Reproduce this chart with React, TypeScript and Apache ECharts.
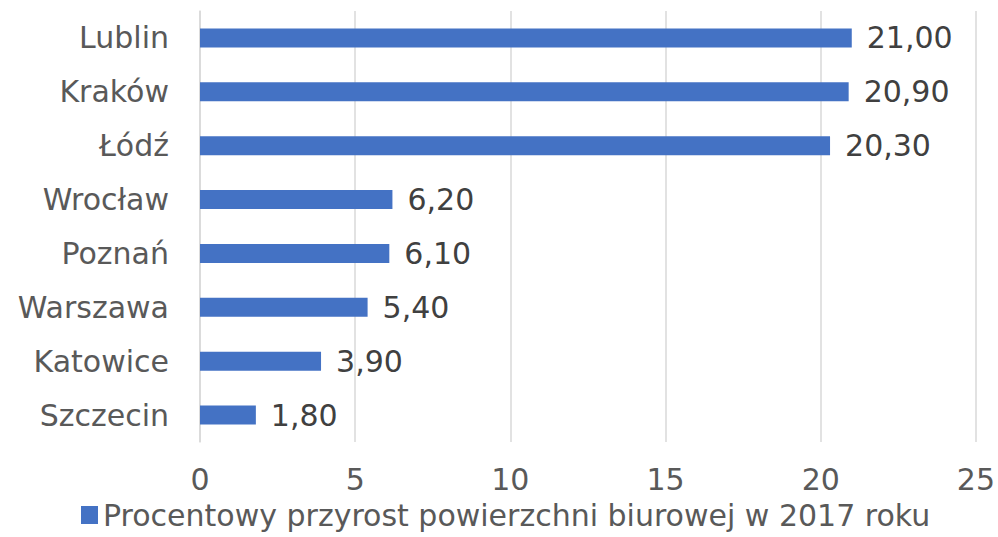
import React, { useEffect, useRef } from "react";
import * as echarts from "echarts";

const cities = ["Lublin", "Kraków", "Łódź", "Wrocław", "Poznań", "Warszawa", "Katowice", "Szczecin"];
const growth = [21.0, 20.9, 20.3, 6.2, 6.1, 5.4, 3.9, 1.8];
const seriesName = "Procentowy przyrost powierzchni biurowej w 2017 roku";
const xTicks = { min: 0, max: 25, interval: 5 };

const FONT = "DejaVu Sans";

export default function App() {
  const ref = useRef<HTMLDivElement>(null);
  useEffect(() => {
    if (!ref.current) return;
    const chart = echarts.init(ref.current, undefined, { renderer: "svg" });
    chart.setOption({
      animation: false,
      backgroundColor: "#ffffff",
      textStyle: { fontFamily: FONT },
      grid: { left: 200, right: 21, top: 11, bottom: 95, containLabel: false },
      legend: {
        data: [seriesName],
        bottom: 2,
        left: 76,
        itemWidth: 17,
        itemHeight: 18,
        itemGap: 10,
        icon: "rect",
        textStyle: { fontFamily: FONT, fontSize: 30, color: "#595959", lineHeight: 30 },
      },
      xAxis: {
        type: "value",
        min: xTicks.min,
        max: xTicks.max,
        interval: xTicks.interval,
        axisLine: { show: false },
        axisTick: { show: false },
        splitLine: { show: true, lineStyle: { color: "#d9d9d9", width: 1.5 } },
        axisLabel: { color: "#595959", fontSize: 30, margin: 22, lineHeight: 30, fontFamily: FONT },
      },
      yAxis: {
        type: "category",
        data: cities,
        inverse: true,
        axisLine: { show: true, lineStyle: { color: "#d9d9d9", width: 1.5 } },
        axisTick: { show: false },
        axisLabel: { color: "#595959", fontSize: 30, margin: 31, fontFamily: FONT },
      },
      series: [
        {
          name: seriesName,
          type: "bar",
          data: growth,
          barWidth: 19,
          itemStyle: { color: "#4472C4" },
          label: {
            show: true,
            position: "right",
            distance: 15,
            color: "#404040",
            fontSize: 30,
            fontFamily: FONT,
            formatter: (p: any) => Number(p.value).toFixed(2).replace(".", ","),
          },
        },
      ],
    });
    return () => chart.dispose();
  }, []);
  return <div ref={ref} style={{ width: 998, height: 537, position: "absolute", left: 0, top: 0 }} />;
}
